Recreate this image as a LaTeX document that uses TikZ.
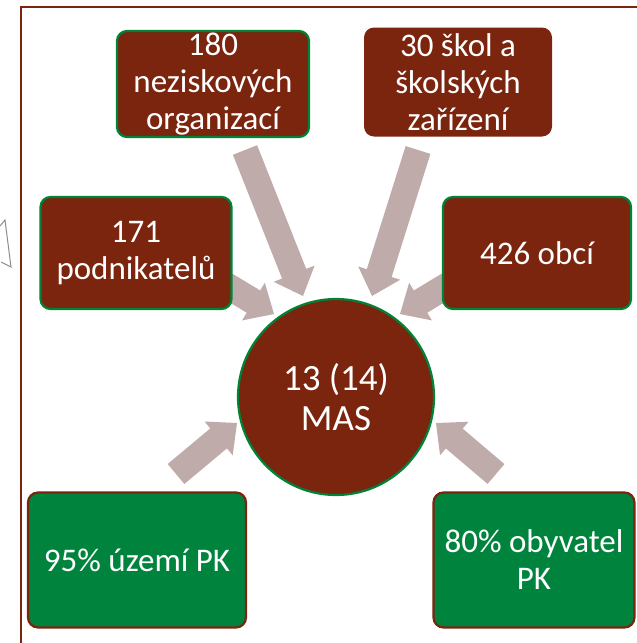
\documentclass[tikz,border=0pt]{standalone}
\usepackage{fontspec}
\setmainfont{Carlito}
\usetikzlibrary{calc}
\definecolor{mbrown}{RGB}{123,36,14}
\definecolor{mgreen}{RGB}{0,130,55}
\definecolor{mgreenfill}{RGB}{0,132,61}
\definecolor{marrow}{RGB}{191,171,170}
\definecolor{mgray}{RGB}{140,140,140}
\newcommand{\blockarr}[2]{%
  \coordinate (hh) at ($(#2)!24pt!(#1)$);
  \fill[arrowfill] ($(#1)!13pt!90:(#2)$) -- ($(hh)!13pt!90:(#2)$) -- ($(hh)!22pt!90:(#2)$) -- (#2)
    -- ($(hh)!22pt!-90:(#2)$) -- ($(hh)!13pt!-90:(#2)$) -- ($(#1)!13pt!-90:(#2)$) -- cycle;}
\tikzset{
  arrowfill/.style={fill=marrow},
  txt/.style={text=white, align=center, font=\fontsize{33}{37}\selectfont},
  brownbox/.style={txt, rectangle, rounded corners=10pt, fill=mbrown, draw=mgreen, line width=2.2pt, inner sep=0pt},
  brownplain/.style={txt, rectangle, rounded corners=10pt, fill=mbrown, inner sep=0pt},
  greenbox/.style={txt, rectangle, rounded corners=10pt, fill=mgreenfill, draw=mbrown, line width=2.2pt, inner sep=0pt},
  centercircle/.style={brownbox, circle, font=\fontsize{37}{40}\selectfont},
  frame/.style={draw=mbrown, line width=2.5pt},
  fragment/.style={draw=mgray, line width=1pt}
}
\begin{document}
\begin{tikzpicture}[x=1pt,y=-1pt]
\useasboundingbox (0,0) rectangle (637,643);
% frame (only left and top edges visible)
\draw[frame] (21,643) -- (21,7) -- (637,7);
% fragment of a shape at the left edge
\draw[fragment] (0,226) -- (5,220) -- (11,267) -- (1,262);
% named coordinates for arrows
\coordinate (t1) at (245,150); \coordinate (p1) at (303,296);
\coordinate (t2) at (418,150); \coordinate (p2) at (372,296);
\coordinate (t3) at (226,285); \coordinate (p3) at (274,314);
\coordinate (t4) at (448,285); \coordinate (p4) at (400,314);
\coordinate (t5) at (176,474); \coordinate (p5) at (237,423);
\coordinate (t6) at (496,474); \coordinate (p6) at (436,423);
\blockarr{t1}{p1}
\blockarr{t2}{p2}
\blockarr{t3}{p3}
\blockarr{t4}{p4}
\blockarr{t5}{p5}
\blockarr{t6}{p6}
% nodes
\node[brownbox, minimum width=192pt, minimum height=106pt] (neo) at (213,84) {180\\neziskových\\organizací};
\node[brownplain, minimum width=188pt, minimum height=109pt] (sko) at (458,82) {30 škol a\\školských\\zařízení};
\node[brownbox, minimum width=191pt, minimum height=112pt] (pod) at (136,253) {171\\podnikatelů};
\node[brownbox, minimum width=188pt, minimum height=112pt] (obc) at (537,253) {426 obcí};
\node[centercircle, minimum size=196pt] (mas) at (336,397) {13 (14)\\MAS};
\node[greenbox, minimum width=218pt, minimum height=135pt] (uz) at (137,560) {95\% území PK};
\node[greenbox, minimum width=201pt, minimum height=135pt] (oby) at (534,560) {80\% obyvatel\\PK};
\end{tikzpicture}
\end{document}
